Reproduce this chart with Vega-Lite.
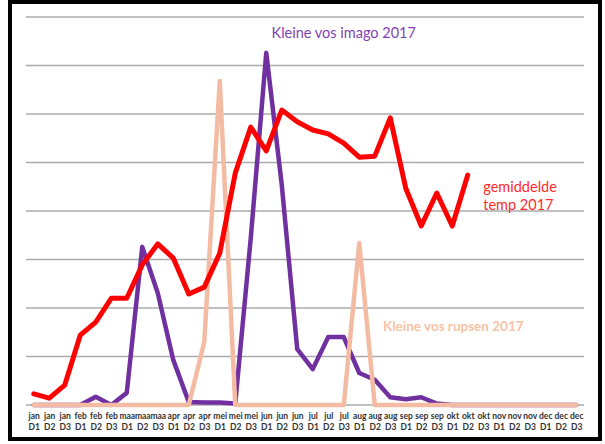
{
  "$schema": "https://vega.github.io/schema/vega-lite/v6.json",
  "width": 590,
  "height": 437,
  "autosize": "none",
  "padding": {"left": 10, "top": 2, "right": 5, "bottom": 5},
  "background": "white",
  "config": {
    "view": {"stroke": "black", "strokeWidth": 4},
    "font": "Lato"
  },
  "datasets": {
    "series": [
      {"period": "jan D1", "temp": 0.23, "imago": 0, "rupsen": 0},
      {"period": "jan D2", "temp": 0.14, "imago": 0, "rupsen": 0},
      {"period": "jan D3", "temp": 0.41, "imago": 0, "rupsen": 0},
      {"period": "feb D1", "temp": 1.44, "imago": 0, "rupsen": 0},
      {"period": "feb D2", "temp": 1.71, "imago": 0.17, "rupsen": 0},
      {"period": "feb D3", "temp": 2.2, "imago": 0, "rupsen": 0},
      {"period": "maa D1", "temp": 2.2, "imago": 0.25, "rupsen": 0},
      {"period": "maa D2", "temp": 2.89, "imago": 3.26, "rupsen": 0},
      {"period": "maa D3", "temp": 3.32, "imago": 2.31, "rupsen": 0},
      {"period": "apr D1", "temp": 3.03, "imago": 0.93, "rupsen": 0},
      {"period": "apr D2", "temp": 2.29, "imago": 0.06, "rupsen": 0},
      {"period": "apr D3", "temp": 2.43, "imago": 0.05, "rupsen": 1.3},
      {"period": "mei D1", "temp": 3.13, "imago": 0.05, "rupsen": 6.68},
      {"period": "mei D2", "temp": 4.78, "imago": 0.03, "rupsen": 0},
      {"period": "mei D3", "temp": 5.73, "imago": 3.44, "rupsen": 0},
      {"period": "jun D1", "temp": 5.24, "imago": 7.26, "rupsen": 0},
      {"period": "jun D2", "temp": 6.08, "imago": 4.54, "rupsen": 0},
      {"period": "jun D3", "temp": 5.84, "imago": 1.15, "rupsen": 0},
      {"period": "jul D1", "temp": 5.67, "imago": 0.74, "rupsen": 0},
      {"period": "jul D2", "temp": 5.59, "imago": 1.4, "rupsen": 0},
      {"period": "jul D3", "temp": 5.4, "imago": 1.4, "rupsen": 0},
      {"period": "aug D1", "temp": 5.11, "imago": 0.66, "rupsen": 3.34},
      {"period": "aug D2", "temp": 5.13, "imago": 0.52, "rupsen": 0},
      {"period": "aug D3", "temp": 5.92, "imago": 0.16, "rupsen": 0},
      {"period": "sep D1", "temp": 4.47, "imago": 0.12, "rupsen": 0},
      {"period": "sep D2", "temp": 3.69, "imago": 0.16, "rupsen": 0},
      {"period": "sep D3", "temp": 4.37, "imago": 0.03, "rupsen": 0},
      {"period": "okt D1", "temp": 3.69, "imago": 0, "rupsen": 0},
      {"period": "okt D2", "temp": 4.74, "imago": 0, "rupsen": 0},
      {"period": "okt D3", "temp": null, "imago": 0, "rupsen": 0},
      {"period": "nov D1", "temp": null, "imago": 0, "rupsen": 0},
      {"period": "nov D2", "temp": null, "imago": 0, "rupsen": 0},
      {"period": "nov D3", "temp": null, "imago": 0, "rupsen": 0},
      {"period": "dec D1", "temp": null, "imago": 0, "rupsen": 0},
      {"period": "dec D2", "temp": null, "imago": 0, "rupsen": 0},
      {"period": "dec D3", "temp": null, "imago": 0, "rupsen": 0}
    ],
    "grid": [{"g": 0}, {"g": 1}, {"g": 2}, {"g": 3}, {"g": 4}, {"g": 5}, {"g": 6}, {"g": 7}, {"g": 8}]
  },
  "encoding": {
    "x": {
      "field": "period",
      "type": "ordinal",
      "scale": {
        "type": "point",
        "padding": 0,
        "range": [23.75, 566.25],
        "domain": ["jan D1","jan D2","jan D3","feb D1","feb D2","feb D3","maa D1","maa D2","maa D3","apr D1","apr D2","apr D3","mei D1","mei D2","mei D3","jun D1","jun D2","jun D3","jul D1","jul D2","jul D3","aug D1","aug D2","aug D3","sep D1","sep D2","sep D3","okt D1","okt D2","okt D3","nov D1","nov D2","nov D3","dec D1","dec D2","dec D3"]
      },
      "axis": {
        "title": null,
        "domain": false,
        "ticks": false,
        "grid": false,
        "offset": -34,
        "labelPadding": 6,
        "labelAngle": 0,
        "labelOverlap": false,
        "labelExpr": "split(datum.label, ' ')",
        "labelFont": "Lato",
        "labelFontSize": 8.5,
        "labelFontWeight": "bold",
        "labelColor": "#333333",
        "labelLineHeight": 11,
        "labelBaseline": "top"
      }
    }
  },
  "layer": [
    {
      "data": {"name": "grid"},
      "mark": {"type": "rule", "color": "#ABABAB", "strokeWidth": 1.5, "xOffset": -7.75, "x2Offset": 7.75},
      "encoding": {
        "x": {"datum": "jan D1", "type": "ordinal"},
        "x2": {"datum": "dec D3"},
        "y": {"field": "g", "type": "quantitative", "scale": {"domain": [-0.701, 8.309], "nice": false, "zero": false}, "axis": null}
      }
    },
    {
      "data": {"name": "series"},
      "mark": {"type": "line", "color": "#7030A0", "strokeWidth": 4.5, "strokeJoin": "round", "strokeCap": "round"},
      "encoding": {"y": {"field": "imago", "type": "quantitative"}}
    },
    {
      "data": {"name": "series"},
      "mark": {"type": "line", "color": "#F4BBA3", "strokeWidth": 4.5, "strokeJoin": "round", "strokeCap": "round"},
      "encoding": {"y": {"field": "rupsen", "type": "quantitative"}}
    },
    {
      "data": {"name": "series"},
      "mark": {"type": "line", "color": "#FF0000", "strokeWidth": 5, "strokeJoin": "round", "strokeCap": "round"},
      "encoding": {"y": {"field": "temp", "type": "quantitative"}}
    },
    {
      "data": {"values": [{"period": "jul D3", "v": 7.65, "label": "Kleine vos imago 2017"}]},
      "mark": {"type": "text", "color": "#7F3FB8", "fontSize": 14.5, "font": "Lato", "align": "center", "baseline": "middle"},
      "encoding": {"y": {"field": "v", "type": "quantitative"}, "text": {"field": "label"}}
    },
    {
      "data": {"values": [{"period": "okt D3", "v": 4.47, "label": "gemiddelde\ntemp 2017"}]},
      "mark": {"type": "text", "color": "#FF2A2A", "fontSize": 14.5, "font": "Lato", "align": "left", "baseline": "middle", "lineBreak": "\n", "lineHeight": 18},
      "encoding": {"y": {"field": "v", "type": "quantitative"}, "text": {"field": "label"}}
    },
    {
      "data": {"values": [{"period": "okt D1", "v": 1.61, "label": "Kleine vos rupsen 2017"}]},
      "mark": {"type": "text", "color": "#F7C3A5", "fontSize": 13.5, "font": "Lato", "fontWeight": "bold", "align": "center", "baseline": "middle", "dx": 1},
      "encoding": {"y": {"field": "v", "type": "quantitative"}, "text": {"field": "label"}}
    }
  ]
}
